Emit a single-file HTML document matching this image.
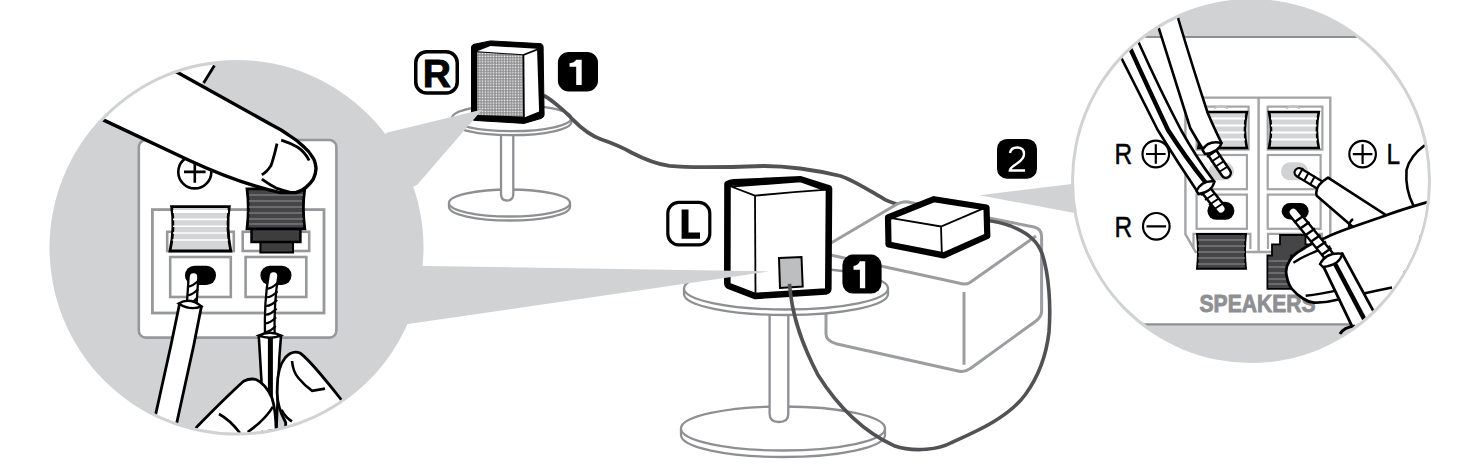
<!DOCTYPE html>
<html><head><meta charset="utf-8">
<style>
html,body{margin:0;padding:0;background:#fff;width:1465px;height:473px;overflow:hidden}
svg{display:block}
text{font-family:"Liberation Sans",sans-serif}
</style></head>
<body>
<svg width="1465" height="473" viewBox="0 0 1465 473">
<defs>
  <clipPath id="cl"><ellipse cx="236.5" cy="247.8" rx="184" ry="184.8"/></clipPath>
  <clipPath id="cr"><ellipse cx="1251" cy="181" rx="177" ry="179"/></clipPath>
  <pattern id="grille" x="0" y="0" width="2.75" height="2.75" patternUnits="userSpaceOnUse">
    <rect width="2.75" height="2.75" fill="#858587"/>
    <rect x="0.6" y="0.6" width="1.5" height="1.5" fill="#fff"/>
  </pattern>
</defs>

<!-- LEFT CIRCLE -->
<g id="leftcircle">
  <ellipse cx="236.5" cy="247.8" rx="187" ry="187.8" fill="#d1d2d4"/>
  <g clip-path="url(#cl)">
    <!-- panel -->
    <rect x="138.8" y="140" width="197.6" height="197.6" rx="7" fill="#fff" stroke="#97989b" stroke-width="2.6"/>
    <!-- plus symbol -->
    <circle cx="194.8" cy="171.9" r="16.5" fill="#fff" stroke="#000" stroke-width="2.6"/>
    <path d="M184 171.9H205.6M194.8 161.1V182.7" stroke="#000" stroke-width="2.6"/>
    <!-- inner frame -->
    <rect x="152.4" y="209.6" width="171.6" height="103.4" fill="none" stroke="#97989b" stroke-width="2.8"/>
    <rect x="167.2" y="231.8" width="66.6" height="19.2" fill="#fff" stroke="#97989b" stroke-width="2.6"/>
    <rect x="242.7" y="231.8" width="66.5" height="19.2" fill="#fff" stroke="#97989b" stroke-width="2.6"/>
    <rect x="170.2" y="257" width="60.6" height="40" fill="#fff" stroke="#97989b" stroke-width="2.6"/>
    <rect x="245.6" y="257" width="60.7" height="40" fill="#fff" stroke="#97989b" stroke-width="2.6"/>
    <rect x="185" y="265.8" width="31" height="19.2" rx="9.6" fill="#000"/>
    <rect x="260.4" y="265.8" width="31.1" height="19.2" rx="9.6" fill="#000"/>
    <!-- left white button -->
    <path d="M171.6 206.6H229.3Q226 228 230.8 251H170Q175 228 171.6 206.6Z" fill="#d4d5d7" stroke="#000" stroke-width="2.8"/>
    <path d="M173 211.5H228" stroke="#fff" stroke-width="3.2"/><path d="M173 219.4H227M173 226.2H227M173 233H227M172.5 240H228" stroke="#fff" stroke-width="1.6"/>
    <!-- right dark button -->
    <rect x="260.4" y="240" width="32.6" height="12.5" fill="#3d3d3d" stroke="#000" stroke-width="2"/>
    <rect x="251.5" y="227" width="48.9" height="15" fill="#3d3d3d" stroke="#000" stroke-width="2.5"/>
    <path d="M247 188.9H304.8Q302 208 304.8 228.8H247Q249.5 208 247 188.9Z" fill="#454547" stroke="#000" stroke-width="2.8"/>
    <path d="M249 195H303M249 201H302M249 207H302M249 213H302M249 219H303M249 224H303" stroke="#7a7a7c" stroke-width="1.6"/>
    <!-- twisted wires -->
    <path d="M193.5 277L191.8 303" stroke="#000" stroke-width="12" stroke-linecap="round"/>
    <path d="M193.5 277L191.8 303" stroke="#fff" stroke-width="7.4" stroke-linecap="round"/>
    <path d="M187.5 286.5Q192.0 287.0 198.5 280.5M187.0 295.2Q191.5 295.7 198.0 289.2M186.4 303.9Q190.9 304.4 197.4 297.9" fill="none" stroke="#000" stroke-width="2.2"/>
    <path d="M273.5 276Q269 300 269.8 336" stroke="#000" stroke-width="12" stroke-linecap="round"/>
    <path d="M273.5 276Q269 300 269.8 336" stroke="#fff" stroke-width="7.4" stroke-linecap="round"/>
    <path d="M267.0 288.5Q271.5 289.0 278.0 282.5M266.5 297.2Q271.0 297.7 277.5 291.2M266.1 305.9Q270.6 306.4 277.1 299.9M265.6 314.6Q270.1 315.1 276.6 308.6M265.1 323.3Q269.6 323.8 276.1 317.3M264.7 332.0Q269.2 332.5 275.7 326.0" fill="none" stroke="#000" stroke-width="2.2"/>
    <!-- left cable -->
    <path d="M179.5 304L201.4 306.4L193.8 345L173 440L150 440L171 345Z" fill="#fff" stroke="#000" stroke-width="2.8" stroke-linejoin="round"/>
    <path d="M178.6 303.5Q190 297 201.4 306.4Q190 311 178.6 303.5Z" fill="#fff" stroke="#000" stroke-width="2.4"/>
    <!-- right cable w stripe -->
    <path d="M258.8 336H281L279.4 357L276 440H262L261.4 380Z" fill="#fff" stroke="#000" stroke-width="2.6" stroke-linejoin="round"/>
    <path d="M258.5 335.5Q270 330 281.2 335.5Q270 340 258.5 335.5Z" fill="#fff" stroke="#000" stroke-width="2.4"/>
    <path d="M270.4 338L270.4 440" stroke="#000" stroke-width="5"/>
    <!-- hands -->
    <path d="M190 440L197 426.7Q225 398 243.5 381.2Q250 378 256 379.5Q266 384 272 398Q276.5 412 276.2 440Z" fill="#fff" stroke="#000" stroke-width="2.8" stroke-linejoin="round"/>
    <path d="M219 414Q230 420 240 433M247.7 432Q265 420 273 406.6" fill="none" stroke="#000" stroke-width="2.6"/>
    <path d="M285.7 440L285.7 422.5Q276 405 277.3 388.6Q277 368 285 358Q292 350 300 353Q310 360 340.7 399L360 440Z" fill="#fff" stroke="#000" stroke-width="2.8" stroke-linejoin="round"/>
    <path d="M292 361Q293 372 298.4 378Q305 386 312.2 390.8L325 388.6M281.5 409.8Q286 418 292 421.4" fill="none" stroke="#000" stroke-width="2.6"/>
    <!-- finger -->
    <path d="M60 99.5L104.8 120.6Q150 142 188.4 160Q225 177 255 185.9Q268 190 280.4 192.6L295.6 192.6Q302 191 305.7 187.6Q311 183 313.3 179.1Q316.5 172 315.9 167.3Q315 160 312.5 157.1Q309 151 304 147Q297 140 288.8 135.1Q282 130 271.9 125L200 83.8L203.6 83L222 52L200 25L120 30Z" fill="#fff"/>
    <path d="M60 99.5L104.8 120.6Q150 142 188.4 160Q225 177 255 185.9Q268 190 280.4 192.6L295.6 192.6Q302 191 305.7 187.6Q311 183 313.3 179.1Q316.5 172 315.9 167.3Q315 160 312.5 157.1Q309 151 304 147Q297 140 288.8 135.1Q282 130 271.9 125L178.5 73L150 60" fill="none" stroke="#000" stroke-width="3.4" stroke-linejoin="round"/>
    <path d="M277 143.6Q274 157 271 165.6Q267 172 261.8 174.9M261.8 179.1Q270 185 277 188.4Q284 191 291.4 192.6M281.2 140.2Q290 143 297.3 147Q305 152 309.1 160.5" fill="none" stroke="#000" stroke-width="2.8"/>
    <path d="M214.4 65.4L203.6 83" fill="none" stroke="#000" stroke-width="2.8"/>
  </g>
</g>

<!-- R speaker table -->
<g id="rtable" fill="#fff" stroke="#8e8f92" stroke-width="2.3">
  <path d="M449 203V207A60.5 13.5 0 0 0 570 207V203"/>
  <ellipse cx="509.5" cy="203" rx="60.5" ry="13.5"/>
  <path d="M501 128V194Q501 200.5 507 200.5Q513.3 200.5 513.3 194V128Z"/>
  <path d="M452 118V122A59.7 13.2 0 0 0 571.4 122V118"/>
  <ellipse cx="511.7" cy="118" rx="59.7" ry="13.2"/>
</g>

<!-- wire from R speaker -->
<path d="M543.8 95.5C552 100 566 112 572.3 119.2C578 125 588 135 600.9 139.2C612 143 622 147 631.3 152.5C640 157 655 164 669.4 165.9C690 168 720 167.5 763.7 166C790 166 815 170 840.6 176C855 181 870 191 885 199.6C890 202 895 204 910 208" fill="none" stroke="#525255" stroke-width="3.8"/>

<!-- R speaker -->
<g id="rspeaker">
  <path d="M471.5 46.6Q472 45 474 44.3L490.5 40.9L541 43.7Q543.1 44.5 543.1 46.6L544.1 115Q543.8 117.5 541 118.5L524 123.4L474.4 120.4Q471.5 120 471.5 117.5Z" fill="#000" stroke="#000" stroke-width="1" stroke-linejoin="round"/>
  <polygon points="477.2,51.3 490.5,46 536.8,48.8 522.9,54.2" fill="#fff"/>
  <polygon points="524.3,55.6 537.1,50.5 539.1,111.5 524.8,117.3" fill="#fff"/>
  <polygon points="477.2,52.3 522.5,55.3 523,116.5 477.2,115" fill="url(#grille)"/>
</g>
<!-- R label -->
<rect x="415.75" y="51.75" width="41.5" height="41.2" rx="11" fill="#fff" stroke="#000" stroke-width="3.5"/>
<text x="436.8" y="86.7" font-size="39" font-weight="bold" text-anchor="middle" fill="#000" stroke="#000" stroke-width="0.9">R</text>
<!-- 1 badge R -->
<rect x="557.9" y="51.9" width="40.1" height="39.6" rx="11" fill="#000"/>
<path d="M576.2 59.8H581.7V85.1H576.2V66.8H569.5V63.3Q574.5 62.8 576.2 59.8Z" fill="#fff"/>
<!-- upper wedge -->
<polygon points="360,150 387.5,132.5 482.3,109.4 417,185 380,200" fill="#d1d2d4"/>

<!-- light gray box (receiver) -->
<g id="lbox" fill="none" stroke="#9c9da1" stroke-width="3" stroke-linejoin="round">
  <path d="M826 246L895.5 205Q900 201.7 907 201.7L1034 227Q1041.6 229 1041.6 236L1041.6 312Q1041 317 1036 321L970 368.7Q965 372.7 958 371L837 344Q826 341 826 334Z" fill="#fff"/>
  <path d="M826 254L962 283.8Q966.5 284.8 970 282.5L1036 236M964 292V364.7"/>
</g>

<!-- L table -->
<g id="ltable" fill="#fff" stroke="#8e8f92" stroke-width="2.3">
  <path d="M681 428.5V435A102 22 0 0 0 885 435V428.5" />
  <ellipse cx="783" cy="428.5" rx="102" ry="22"/>
  <path d="M769.6 300V414Q769.6 422 779 422Q788.3 422 788.3 414V300Z"/>
  <path d="M684 288.5V294A102 21 0 0 0 888 294V288.5"/>
  <ellipse cx="786" cy="288.5" rx="102" ry="21"/>
</g>

<!-- L speaker -->
<g id="lspeaker">
  <path d="M727.5 184Q730 182.5 734 182.3L800.6 179.3L829 188.5L828.3 289Q828 291 825.5 291.5L755 296L729 286Q727.3 285 727.3 283Z" fill="#fff" stroke="#000" stroke-width="6.6" stroke-linejoin="round"/>
  <path d="M731 186.5L800.6 181.4L824 189.8Q790 192 755 195.7Z" fill="#fff" stroke="#000" stroke-width="1.8" stroke-linejoin="round"/>
  <path d="M755 195.7L755.5 295" stroke="#000" stroke-width="1.8"/>
  <path d="M779 258L801.5 257L802.7 286.5L780 288Z" fill="#bdbec0" stroke="#000" stroke-width="2"/>
</g>
<!-- wire from L terminal around -->
<path d="M789.5 283.8C792 320 805 350 818 375C835 402 860 430 894 445.7C915 453 940 449 951.7 442.5C975 432 1008 418 1025.2 394.7C1036 380 1046 358 1049 332C1051 305 1049 275 1042.3 254.2C1038 242 1030 234 1010 225.7C1000 222 992 221 985 220" fill="none" stroke="#525255" stroke-width="3.6"/>
<!-- L label -->
<rect x="667.8" y="202.3" width="42" height="42.5" rx="11" fill="#fff" stroke="#000" stroke-width="3.2"/>
<path d="M681.6 209.6H688.5V232.6H700V238.7H681.6Z" fill="#000"/>
<!-- 1 badge L -->
<rect x="842.4" y="254.6" width="39.2" height="38.9" rx="10.5" fill="#000"/>
<path d="M859.9 261.2H865.2V288.2H859.9V269.8H853.5V266Q858 265.5 859.9 261.2Z" fill="#fff"/>
<!-- lower wedge -->
<polygon points="380,262 424,266 769.5,271.4 408,324 370,330" fill="#d1d2d4"/>

<!-- small box -->
<g id="sbox">
  <path d="M888 217.5L934 199.2L986.5 207.5L987.3 236L943.8 255.4L888.5 244.5Z" fill="#fff" stroke="#000" stroke-width="6.2" stroke-linejoin="round"/>
  <path d="M891.4 218.2L941 226.5L983.5 208.3M941 226.5L941.8 252.4" fill="none" stroke="#000" stroke-width="1.8"/>
</g>
<!-- 2 badge -->
<rect x="997" y="138.9" width="40" height="39.9" rx="10" fill="#000"/>
<path d="M1010 153Q1011 147.5 1017 147.5Q1024 147.5 1024 154Q1024 159 1017 163.5Q1010 168 1009.8 170.5H1025" fill="none" stroke="#fff" stroke-width="2.4"/>

<!-- RIGHT CIRCLE -->
<g id="rightcircle">
  <ellipse cx="1251" cy="181" rx="180" ry="182" fill="#d1d2d4"/>
  <polygon points="979.4,195.2 1080,183 1080,214" fill="#d1d2d4"/>
  <g clip-path="url(#cr)">
    <rect x="1060" y="37" width="390" height="287.3" fill="#fff"/>
    <path d="M1060 37H1450M1060 324.3H1450" stroke="#8e8f92" stroke-width="2.2"/>
    <!-- panel outline -->
    <path d="M1184 97.6H1330.3V252M1258.6 97.6V252M1185.4 97.6V234.2L1195.7 252H1331" fill="none" stroke="#a3a4a6" stroke-width="2.4"/>
    <g fill="#fff" stroke="#a3a4a6" stroke-width="2.2">
      <rect x="1196.6" y="106.6" width="52" height="43"/>
      <rect x="1196.6" y="155" width="50.3" height="34.2"/>
      <rect x="1196.6" y="194.6" width="50.3" height="34.2"/>
      <rect x="1267.7" y="106.6" width="54.7" height="43"/>
      <rect x="1267.7" y="155" width="52.9" height="34.2"/>
      <rect x="1267.7" y="194.6" width="52.9" height="34.2"/>
    </g>
    <path d="M1193.5 249V233.8H1250.4V249M1268 249V233.8H1322V249" fill="none" stroke="#a3a4a6" stroke-width="2.2"/>
    <rect x="1209" y="162.3" width="25" height="18" rx="9" fill="#d1d2d4"/>
    <rect x="1281" y="162.3" width="27" height="18" rx="9" fill="#d1d2d4"/>
    <rect x="1207.4" y="201.8" width="27" height="18" rx="9" fill="#000"/>
    <rect x="1281.7" y="203" width="27" height="16.5" rx="8.2" fill="#000"/>
    <!-- light buttons -->
    <path d="M1198.4 112H1246.9Q1243 130 1246.9 148H1198.4Q1202 130 1198.4 112Z" fill="#d4d5d7" stroke="#000" stroke-width="2.6"/>
    <path d="M1200 118.5H1245M1200 125.5H1244.5M1200 132.5H1244.5M1200 139.5H1245" stroke="#fff" stroke-width="1.8"/>
    <path d="M1269 112H1318.8Q1315 130 1318.8 148H1269Q1273 130 1269 112Z" fill="#d4d5d7" stroke="#000" stroke-width="2.6"/>
    <path d="M1271 118.5H1317M1271 125.5H1316.5M1271 132.5H1316.5M1271 139.5H1317" stroke="#fff" stroke-width="1.8"/>
    <path d="M1214 108.5Q1221 104 1228 108.5M1286 108.5Q1293 104 1300 108.5" fill="none" stroke="#c0c1c3" stroke-width="2"/>
    <!-- dark buttons -->
    <path d="M1197 234H1246Q1244 251 1246 268.8H1197Q1199 251 1197 234Z" fill="#454547" stroke="#000" stroke-width="2"/>
    <path d="M1198 240H1245M1198 246H1245M1198 252H1245M1198 258H1245M1198 264H1245" stroke="#7a7a7c" stroke-width="1.5"/>
    <path d="M1280 235H1305.5V244.4H1310V255.5H1291V288.8H1267.4V255.5H1272V244.4H1280Z" fill="#454547" stroke="#000" stroke-width="1.8"/>
    <path d="M1268.5 261H1290M1268.5 267H1290M1268.5 273H1290M1268.5 279H1290M1268.5 284H1290" stroke="#7a7a7c" stroke-width="1.5"/>
    <!-- SPEAKERS -->
    <text x="1257.5" y="312.3" font-size="24.3" font-weight="bold" text-anchor="middle" fill="#8e8f93" stroke="#8e8f93" stroke-width="0.9" textLength="116" lengthAdjust="spacingAndGlyphs">SPEAKERS</text>
    <!-- labels -->
    <text transform="translate(1114.5 164.3) scale(0.84 1)" font-size="29.2" fill="#000" stroke="#000" stroke-width="0.45">R</text>
    <text transform="translate(1114.5 236.6) scale(0.84 1)" font-size="29.2" fill="#000" stroke="#000" stroke-width="0.45">R</text>
    <circle cx="1155.8" cy="154" r="13.3" fill="none" stroke="#000" stroke-width="2.2"/>
    <path d="M1146 154H1165.6M1155.8 144.2V163.8" stroke="#000" stroke-width="2.2"/>
    <circle cx="1156.3" cy="226.3" r="13.3" fill="none" stroke="#000" stroke-width="2.2"/>
    <path d="M1146.5 226.3H1166.1" stroke="#000" stroke-width="2.2"/>
    <circle cx="1362.6" cy="154.1" r="13.3" fill="none" stroke="#000" stroke-width="2.2"/>
    <path d="M1352.8 154.1H1372.4M1362.6 144.3V163.9" stroke="#000" stroke-width="2.2"/>
    <text transform="translate(1386.5 164.4) scale(0.84 1)" font-size="29.2" fill="#000" stroke="#000" stroke-width="0.45">L</text>
    <!-- cable B (R-) with stripe -->
    <path d="M1108 34L1121.6 58.4Q1140 95 1157.7 130Q1178 163 1198 192.5L1214.2 181.6Q1196 157 1181 130Q1160 90 1139 43.3L1132 28Z" fill="#fff" stroke="#000" stroke-width="2.6" stroke-linejoin="round"/>
    <path d="M1125 38L1131 50.2Q1150 92 1168 130Q1186 158 1206 183" fill="none" stroke="#000" stroke-width="4.4"/>
    <!-- twisted wire R- -->
    <path d="M1205 189L1221 209" stroke="#000" stroke-width="12" stroke-linecap="round"/>
    <path d="M1205 189L1221 209" stroke="#fff" stroke-width="7" stroke-linecap="round"/>
    <path d="M1201 195l9 -6M1205 200l9 -6M1209 205l9 -6M1213 210l9 -6" stroke="#000" stroke-width="2"/>
    <path d="M1196.5 191Q1202 180 1214.5 181.5Q1212 192 1198.5 194Z" fill="#fff" stroke="#000" stroke-width="2.4" stroke-linejoin="round"/>
    <!-- cable A (R+) -->
    <path d="M1152 10L1158.8 28.1Q1175 80 1190.2 128Q1197 140 1203.5 150L1221.5 143Q1215 130 1207.7 113Q1192 65 1178.6 20L1175 5Z" fill="#fff" stroke="#000" stroke-width="2.6" stroke-linejoin="round"/>
    <path d="M1211 151L1226 173" stroke="#000" stroke-width="12" stroke-linecap="round"/>
    <path d="M1211 151L1226 173" stroke="#fff" stroke-width="7" stroke-linecap="round"/>
    <path d="M1207 157l9 -6M1211 162l9 -6M1215 167l9 -6M1219 172l8 -5" stroke="#000" stroke-width="2"/>
    <path d="M1202.5 150Q1208 140 1221.5 143Q1219 152 1205 154Z" fill="#fff" stroke="#000" stroke-width="2.4" stroke-linejoin="round"/>
    <!-- L+ cable -->
    <path d="M1299 172.5L1323 187" stroke="#000" stroke-width="11" stroke-linecap="round"/>
    <path d="M1299 172.5L1323 187" stroke="#fff" stroke-width="6.5" stroke-linecap="round"/>
    <path d="M1303 168l-5 9M1309 172l-5 9M1315 176l-5 9" stroke="#000" stroke-width="2"/>
    <path d="M1328 177.6L1440 250L1420 285L1316.7 195.7Q1314 186 1328 177.6Z" fill="#fff" stroke="#000" stroke-width="2.6" stroke-linejoin="round"/>
    <!-- knuckle top right -->
    <path d="M1425 145Q1410 156 1406.5 170Q1405 190 1413.7 206.2" fill="none" stroke="#000" stroke-width="2.6"/>
    <path d="M1349 227Q1349 222 1353 219" fill="none" stroke="#000" stroke-width="2.4"/>
    <!-- finger -->
    <path d="M1440 198L1426.6 202.4Q1400 210 1380 217.5L1352.4 227Q1335 233 1325 238Q1310 244 1303 249Q1292 255 1289.2 261.4Q1285 268 1286.5 275.2Q1288 284 1292 289Q1297 295 1303 298.5Q1308 302 1314 302.6Q1325 303 1336 300Q1360 294 1392 287.5L1440 290Z" fill="#fff" stroke="none"/>
    <path d="M1440 198L1426.6 202.4Q1400 210 1380 217.5L1352.4 227Q1335 233 1325 238Q1310 244 1303 249Q1292 255 1289.2 261.4Q1285 268 1286.5 275.2Q1288 284 1292 289Q1297 295 1303 298.5Q1308 302 1314 302.6Q1325 303 1336 300Q1360 294 1392 287.5" fill="none" stroke="#000" stroke-width="2.8" stroke-linejoin="round"/>
    <path d="M1293.4 262.8Q1310 252 1330.4 246.3M1305.7 295.8Q1320 294 1337.3 290.3" fill="none" stroke="#000" stroke-width="2.4"/>
    <!-- L- wire -->
    <path d="M1293.3 212.2L1331.9 259.6" stroke="#000" stroke-width="12" stroke-linecap="round"/>
    <path d="M1293.3 212.2L1331.9 259.6" stroke="#fff" stroke-width="7.2" stroke-linecap="round"/>
    <path d="M1294 222.5l10 -7M1299.5 229l10 -7M1305 235.5l10 -7M1310.5 242l10 -7M1316 248.5l10 -7M1321.5 255l10 -7M1327 261.5l8 -6" stroke="#000" stroke-width="2.4"/>
    <path d="M1323 265.6L1342.2 253.7L1400 360L1373 370Z" fill="#fff" stroke="#000" stroke-width="2.8" stroke-linejoin="round"/>
    <path d="M1333 260L1387 362" stroke="#000" stroke-width="4.6"/>
    <path d="M1320 264Q1326 252 1342.2 253.7Q1340 265 1323 267Z" fill="#fff" stroke="#000" stroke-width="2.4"/>
    <path d="M1340 334Q1344 327 1355 326" fill="none" stroke="#000" stroke-width="3"/>
  </g>
</g>
</svg>
</body></html>
